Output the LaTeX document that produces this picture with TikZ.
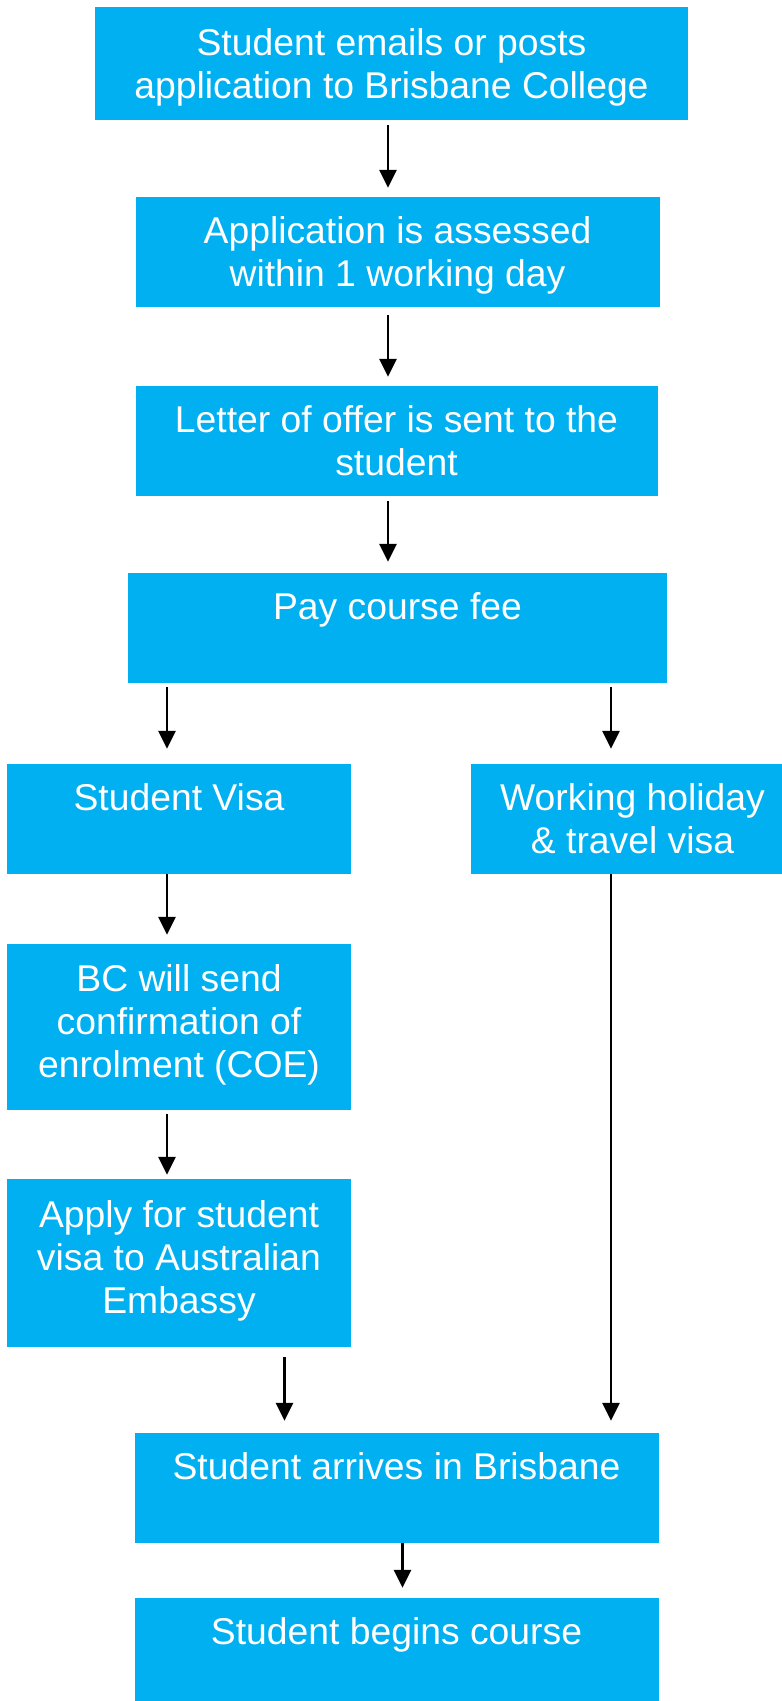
\documentclass[tikz,border=0pt]{standalone}
\usepackage{fontspec}
\setmainfont{Liberation Sans}
\usetikzlibrary{arrows.meta}
\definecolor{boxblue}{RGB}{0,176,240}

\begin{document}
\begin{tikzpicture}
		[x=1pt,y=-1pt,
		box/.style={fill=boxblue, text=white, inner sep=0pt, align=center,
			font=\fontsize{37.3}{43}\selectfont,
			execute at begin node=\strut, execute at end node=\strut},
		low/.style={box,text height=82pt},
		arr/.style={line width=2.7pt, -{Triangle[width=17pt,length=18pt]}}]
		\useasboundingbox (0,0) rectangle (782,1701);
		% main column
		\node[low,minimum width=593pt,minimum height=113pt] (n1) at (391.5,63.5) {Student emails or posts\\application to Brisbane College};
		\node[low,minimum width=524pt,minimum height=110pt] (n2) at (397.5,252)  {Application is assessed\\within 1 working day};
		\node[low,minimum width=522pt,minimum height=110pt] (n3) at (396.5,441)  {Letter of offer is sent to the\\student};
		\node[low,minimum width=539pt,minimum height=110pt] (n4) at (397.5,628)  {Pay course fee\\\mbox{}};
		% visa branches
		\node[low,minimum width=344pt,minimum height=110pt] (n5) at (179,819)    {Student Visa\\\mbox{}};
		\node[low,minimum width=323pt,minimum height=110pt] (n6) at (632.5,819)  {Working holiday\\\& travel visa};
		\node[box,minimum width=344pt,minimum height=166pt] (n7) at (179,1027)   {BC will send\\confirmation of\\enrolment (COE)};
		\node[box,minimum width=344pt,minimum height=168pt] (n8) at (179,1263)   {Apply for student\\visa to Australian\\Embassy};
		% arrival
		\node[low,minimum width=524pt,minimum height=110pt] (n9) at (396.5,1488)  {Student arrives in Brisbane\\\mbox{}};
		\node[low,minimum width=524pt,minimum height=110pt] (n10) at (396.5,1653) {Student begins course\\\mbox{}};
		% arrow columns
		\coordinate (cl) at (167,0);
		\coordinate (cm) at (388,0);
		\coordinate (cr) at (611,0);
		\coordinate (ca) at (284.5,0);
		\coordinate (cb) at (402.5,0);
		\foreach \from/\to/\col/\a/\b in {n1/n2/cm/5/9,n2/n3/cm/8/9,n3/n4/cm/5/11,n4/n5/cl/4/15,n4/n6/cr/4/15,n5/n7/cl/0/9,n7/n8/cl/4/4,n8/n9/ca/10/12,n6/n9/cr/0/12,n9/n10/cb/0/10}
		\draw[arr,shorten <=\a pt,shorten >=\b pt]  (\from.south -| \col) -- (\to.north -| \col);
	\end{tikzpicture}
\end{document}
